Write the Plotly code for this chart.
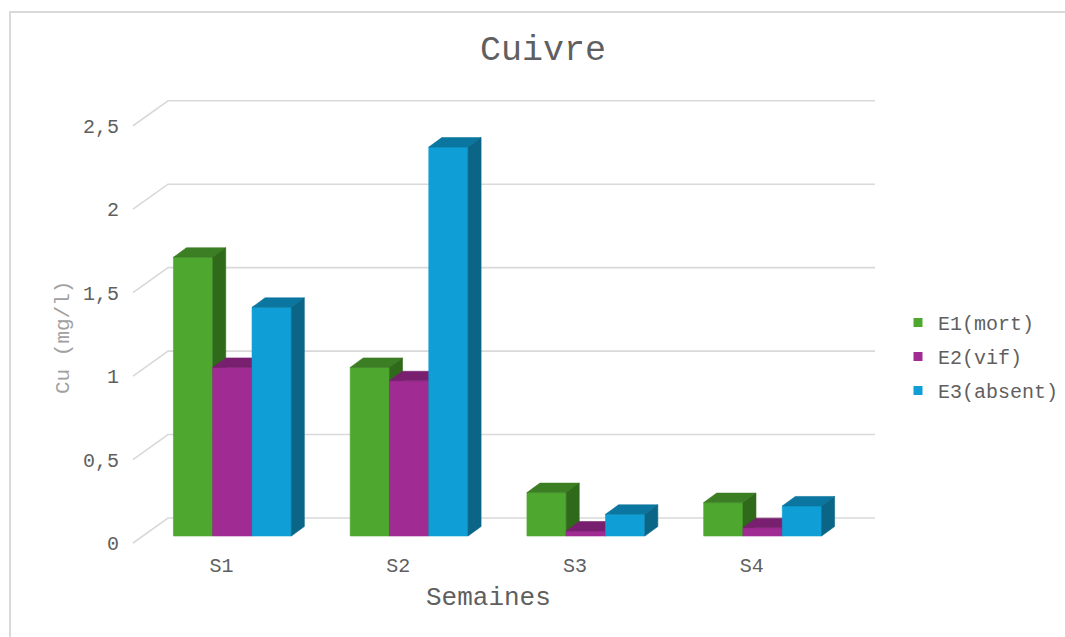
import plotly.graph_objects as go

# ---- data ----
weeks = ["S1", "S2", "S3", "S4"]
e1_mort = [1.67, 1.01, 0.26, 0.20]
e2_vif = [1.01, 0.93, 0.03, 0.05]
e3_absent = [1.37, 2.33, 0.13, 0.18]
series_names = ["E1(mort)", "E2(vif)", "E3(absent)"]
y_tick_values = [0, 0.5, 1, 1.5, 2, 2.5]
y_tick_labels = ["0", "0,5", "1", "1,5", "2", "2,5"]

# ---- styles ----
front_colors = ["#4EA72E", "#A02B93", "#0F9ED5"]
top_colors = ["#3C7E24", "#78206F", "#0B77A0"]
side_colors = ["#2F6A1B", "#651C5D", "#0A6587"]
FONT = "Liberation Mono, Courier New, monospace"
TEXT = "#5f5f5f"
GRID = "#d9d9d9"

# ---- page geometry (px) ----
W, H = 1065, 637
M_L, M_R, M_T, M_B = 120, 120, 80, 86
PW, PH = W - M_L - M_R, H - M_T - M_B
PX_PER_CAT = 176.75
PX_PER_VAL = 166.9
FRONT_LEFT_PX = 133     # where category -0.5 sits on the front plane
FRONT_ZERO_PX = 543     # where value 0 sits on the front plane

x_lo = -0.5 - (FRONT_LEFT_PX - M_L) / PX_PER_CAT
x_hi = x_lo + PW / PX_PER_CAT
y_lo = -((H - M_B) - FRONT_ZERO_PX) / PX_PER_VAL
y_hi = y_lo + PH / PX_PER_VAL


def depth(dx_px, dy_px):
    """Oblique depth offset expressed in data units (dy_px is upward)."""
    return dx_px / PX_PER_CAT, dy_px / PX_PER_VAL


BAR_SHIFT = depth(11, 7)      # front face of the bars vs. front plane
BAR_DEPTH = depth(13, 9.5)    # thickness of each bar
WALL_SHIFT = depth(35, 25)    # back wall vs. front plane
BAR_W = 39.3 / PX_PER_CAT


def px_x(px):
    return (px - M_L) / PW


def px_y(py):
    return (H - M_B - py) / PH


fig = go.Figure()

# ---- back wall gridlines and left-side depth lines ----
gx, gy = [], []
for v in y_tick_values:
    gx += [-0.5, -0.5 + WALL_SHIFT[0], 3.5 + WALL_SHIFT[0], None]
    gy += [v, v + WALL_SHIFT[1], v + WALL_SHIFT[1], None]
fig.add_trace(go.Scatter(x=gx, y=gy, mode="lines", line=dict(color=GRID, width=1.6),
                         hoverinfo="skip", showlegend=False))


def face(xs, ys, color):
    fig.add_trace(go.Scatter(
        x=xs + [xs[0]], y=ys + [ys[0]], fill="toself", fillcolor=color,
        mode="lines", line=dict(color=color, width=0.6),
        hoverinfo="skip", showlegend=False))


# ---- 3D bars, drawn left to right so nearer faces cover farther ones ----
all_series = [e1_mort, e2_vif, e3_absent]
ddx, ddy = BAR_DEPTH
for i, wk in enumerate(weeks):
    for k, vals in enumerate(all_series):
        v = vals[i]
        xl = i + BAR_SHIFT[0] + (k - 1.5) * BAR_W
        xr = xl + BAR_W
        yb = BAR_SHIFT[1]
        yt = yb + v
        face([xl, xr, xr, xl], [yb, yb, yt, yt], front_colors[k])
        face([xl, xr, xr + ddx, xl + ddx], [yt, yt, yt + ddy, yt + ddy], top_colors[k])
        face([xr, xr + ddx, xr + ddx, xr], [yb, yb + ddy, yt + ddy, yt], side_colors[k])

# ---- legend entries ----
for k, name in enumerate(series_names):
    fig.add_trace(go.Scatter(x=[None], y=[None], mode="markers", name=name,
                             legendgroup=name,
                             marker=dict(symbol="square", size=9, color=front_colors[k])))

fig.update_layout(
    width=W, height=H,
    margin=dict(l=M_L, r=M_R, t=M_T, b=M_B, autoexpand=False),
    paper_bgcolor="white", plot_bgcolor="white",
    font=dict(family=FONT, color=TEXT, size=20),
    title=dict(text="Cuivre", x=543 / W, xanchor="center", y=1 - 48 / H, yanchor="middle",
               font=dict(family=FONT, size=35, color=TEXT)),
    xaxis=dict(range=[x_lo, x_hi], tickvals=list(range(len(weeks))), ticktext=weeks,
               showgrid=False, zeroline=False, showline=False, ticks="",
               tickfont=dict(size=20, color=TEXT), fixedrange=True),
    yaxis=dict(range=[y_lo, y_hi], tickvals=y_tick_values, ticktext=y_tick_labels,
               showgrid=False, zeroline=False, showline=False, ticks="",
               tickfont=dict(size=20, color=TEXT), fixedrange=True),
    legend=dict(x=px_x(898), y=px_y(303), xanchor="left", yanchor="top",
                font=dict(size=20, color=TEXT), tracegroupgap=5,
                bgcolor="rgba(0,0,0,0)", itemwidth=30),
    showlegend=True,
    annotations=[
        dict(text="Cu (mg/l)", textangle=-90, x=px_x(63), y=px_y(338), xref="paper", yref="paper",
             showarrow=False, font=dict(size=21, color="#a0a0a0"), xanchor="center", yanchor="middle"),
        dict(text="Semaines", x=px_x(488), y=px_y(598), xref="paper", yref="paper",
             showarrow=False, font=dict(size=26, color=TEXT), xanchor="center", yanchor="middle"),
    ],
    shapes=[
        dict(type="line", xref="paper", yref="paper", x0=px_x(10), x1=px_x(10),
             y0=px_y(11), y1=px_y(660), line=dict(color=GRID, width=2), layer="below"),
        dict(type="line", xref="paper", yref="paper", x0=px_x(9), x1=px_x(1080),
             y0=px_y(12), y1=px_y(12), line=dict(color=GRID, width=2), layer="below"),
    ],
)

fig.write_html("out.html")
